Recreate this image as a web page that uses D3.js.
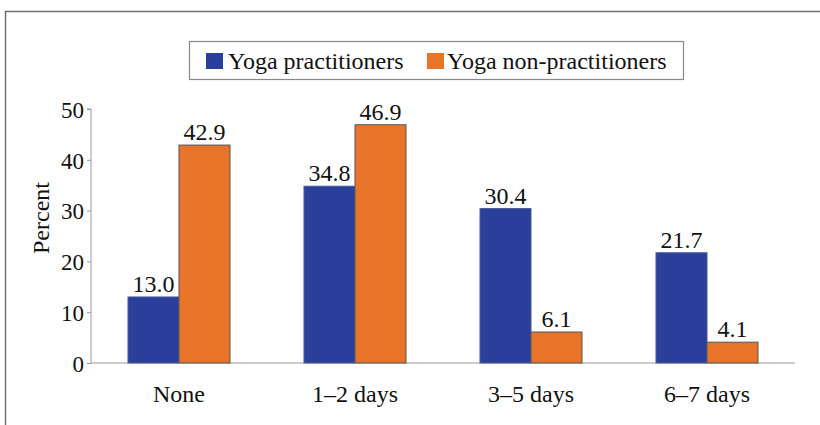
<!DOCTYPE html>
<html>
<head>
<meta charset="utf-8">
<script src="https://cdn.jsdelivr.net/npm/d3@7"></script>
</head>
<body style="margin:0;background:#fff">
<svg class="bar-chart"></svg>
<script>
const categories = ['None', '1\u20132 days', '3\u20135 days', '6\u20137 days'];
const seriesNames = ['Yoga practitioners', 'Yoga non-practitioners'];
const practitioners = [13.0, 34.8, 30.4, 21.7];
const nonPractitioners = [42.9, 46.9, 6.1, 4.1];
const yTicks = [0, 10, 20, 30, 40, 50];

const width = 820, height = 425;
const margin = { top: 109, right: 25, bottom: 62, left: 91 };
const colors = ['#2a3f9b', '#e8742a'];
const strokes = ['#4a5a9a', '#555'];
const serif = 'Liberation Serif';

const svg = d3.select('.bar-chart')
  .attr('width', width)
  .attr('height', height);

const label = (sel, size) => sel
  .style('font-family', serif)
  .style('font-size', size + 'px')
  .style('fill', '#111');

// outer frame
svg.append('rect')
  .attr('x', 5.5).attr('y', 11.5)
  .attr('width', 830).attr('height', 440)
  .attr('fill', 'none')
  .attr('stroke', '#6f6f6f')
  .attr('stroke-width', 1.5);

const x = d3.scaleBand()
  .domain(categories)
  .range([margin.left, width - margin.right]);

const y = d3.scaleLinear()
  .domain([0, 50])
  .range([height - margin.bottom, margin.top]);

const barW = 51;
const sub = d3.scaleBand()
  .domain([0, 1])
  .range([-barW, barW]);

const data = categories.map((c, i) => ({ cat: c, vals: [practitioners[i], nonPractitioners[i]] }));

// y axis
const yAxis = (g) => g
  .attr('transform', `translate(${margin.left},0)`)
  .call(d3.axisLeft(y).tickValues(yTicks).tickSize(4).tickPadding(3).tickFormat(d3.format('d')))
  .call((g) => g.select('.domain').attr('stroke', '#999').attr('d', `M-4,${y(50)}H0V${y(0)}`))
  .call((g) => g.selectAll('.tick line').attr('stroke', '#999'))
  .call((g) => g.selectAll('.tick text').call(label, 23).attr('dy', '0.36em'));

svg.append('g').call(yAxis);

// baseline
svg.append('line')
  .attr('x1', margin.left).attr('x2', width - margin.right)
  .attr('y1', y(0)).attr('y2', y(0))
  .attr('stroke', '#999');

const groups = svg.append('g')
  .selectAll('g')
  .data(data)
  .join('g')
  .attr('transform', (d) => `translate(${x(d.cat) + x.bandwidth() / 2},0)`);

groups.selectAll('rect')
  .data((d) => d.vals.map((v, k) => ({ v, k })))
  .join('rect')
  .attr('x', (d) => sub(d.k))
  .attr('y', (d) => y(d.v))
  .attr('width', sub.bandwidth())
  .attr('height', (d) => y(0) - y(d.v))
  .attr('fill', (d) => colors[d.k])
  .attr('stroke', (d) => strokes[d.k])
  .attr('stroke-width', 1);

groups.selectAll('text.val')
  .data((d) => d.vals.map((v, k) => ({ v, k })))
  .join('text')
  .attr('class', 'val')
  .attr('x', (d) => sub(d.k) + sub.bandwidth() / 2)
  .attr('y', (d) => y(d.v) - 5)
  .attr('text-anchor', 'middle')
  .call(label, 24)
  .text((d) => d3.format('.1f')(d.v));

// category labels
svg.append('g')
  .selectAll('text')
  .data(categories)
  .join('text')
  .attr('x', (d) => x(d) + x.bandwidth() / 2)
  .attr('y', 402)
  .attr('text-anchor', 'middle')
  .call(label, 24)
  .text((d) => d);

// y label
svg.append('text')
  .attr('transform', 'translate(49,218) rotate(-90)')
  .attr('text-anchor', 'middle')
  .call(label, 24)
  .text('Percent');

// legend
const legend = svg.append('g');
legend.append('rect')
  .attr('x', 189.5).attr('y', 41.5)
  .attr('width', 494).attr('height', 38)
  .attr('fill', '#fff')
  .attr('stroke', '#888')
  .attr('stroke-width', 1.2);

const legendX = [206, 427];
seriesNames.forEach((name, k) => {
  legend.append('rect')
    .attr('x', legendX[k]).attr('y', 53)
    .attr('width', 17).attr('height', 16)
    .attr('fill', colors[k]);
  legend.append('text')
    .attr('x', legendX[k] + (k === 0 ? 22 : 20))
    .attr('y', 69)
    .call(label, 24)
    .text(name);
});
</script>
</body>
</html>
